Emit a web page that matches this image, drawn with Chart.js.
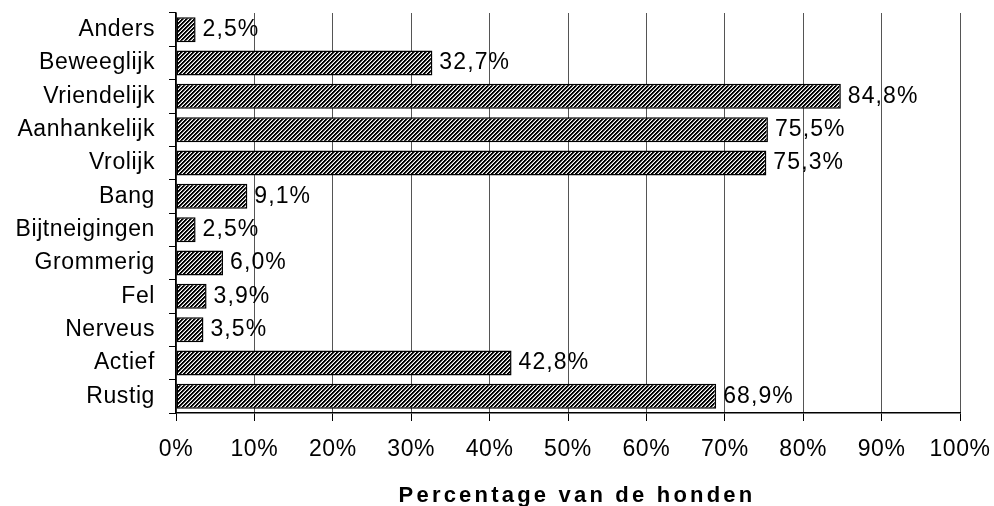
<!DOCTYPE html>
<html>
<head>
<meta charset="utf-8">
<script src="https://cdn.jsdelivr.net/npm/chart.js@4"></script>
<style>
  html, body { margin: 0; padding: 0; background: #fff; }
  #wrap { width: 994px; height: 506px; }
</style>
</head>
<body>
<div id="wrap"><canvas id="chart" width="994" height="506"></canvas></div>
<script>
// Data
const categories = [
  "Anders", "Beweeglijk", "Vriendelijk", "Aanhankelijk", "Vrolijk", "Bang",
  "Bijtneigingen", "Grommerig", "Fel", "Nerveus", "Actief", "Rustig",
];
const percentages = [2.5, 32.7, 84.8, 75.5, 75.3, 9.1, 2.5, 6.0, 3.9, 3.5, 42.8, 68.9];
const xTicks = [0, 10, 20, 30, 40, 50, 60, 70, 80, 90, 100];
const axisTitle = "Percentage van de honden";

const FONT = "'Liberation Sans', Arial, sans-serif";

// Diagonal "/" hatch, 4px period, drawn pixel by pixel
function hatchPattern() {
  const c = document.createElement("canvas");
  c.width = 4;
  c.height = 4;
  const g = c.getContext("2d");
  g.fillStyle = "#fff";
  g.fillRect(0, 0, 4, 4);
  for (let y = 0; y < 4; y++) {
    for (let x = 0; x < 4; x++) {
      const k = (x + y) % 4;
      if (k === 0 || k === 1) {
        g.fillStyle = "#000";
        g.fillRect(x, y, 1, 1);
      } else if (k === 2) {
        g.fillStyle = "#888";
        g.fillRect(x, y, 1, 1);
      }
    }
  }
  return g.createPattern(c, "repeat");
}

const fmt = (v) => v.toFixed(1).replace(".", ",") + "%";

// Slightly wider letter spacing for the axis labels
const spacing = {
  id: "spacing",
  beforeLayout(chart) { chart.ctx.letterSpacing = "0.6px"; },
  beforeDraw(chart) { chart.ctx.letterSpacing = "0.6px"; },
};

// Value labels at the end of each bar
const valueLabels = {
  id: "valueLabels",
  afterDatasetsDraw(chart) {
    const ctx = chart.ctx;
    const meta = chart.getDatasetMeta(0);
    ctx.save();
    ctx.letterSpacing = "1.1px";
    ctx.font = "23px " + FONT;
    ctx.fillStyle = "#000";
    ctx.textAlign = "left";
    ctx.textBaseline = "middle";
    meta.data.forEach((bar, i) => {
      ctx.fillText(fmt(percentages[i]), bar.x + 7, bar.y);
    });
    ctx.restore();
  },
};

// Bold axis title, letter-spaced like the original
const bottomTitle = {
  id: "bottomTitle",
  afterDraw(chart) {
    const ctx = chart.ctx;
    const area = chart.chartArea;
    ctx.save();
    ctx.letterSpacing = "3.2px";
    ctx.font = "bold 22px " + FONT;
    ctx.fillStyle = "#000";
    ctx.textAlign = "center";
    ctx.textBaseline = "alphabetic";
    ctx.fillText(axisTitle, (area.left + area.right) / 2 + 9, 502);
    ctx.restore();
  },
};

const noEdgePadding = (s) => {
  s.paddingLeft = 0;
  s.paddingRight = 0;
  s.paddingTop = 0;
  s.paddingBottom = 0;
};

new Chart(document.getElementById("chart"), {
  type: "bar",
  data: {
    labels: categories,
    datasets: [{
      data: percentages,
      backgroundColor: hatchPattern(),
      borderColor: "#000",
      borderWidth: 1.5,
      borderSkipped: false,
      categoryPercentage: 1,
      barPercentage: 0.75,
    }],
  },
  options: {
    indexAxis: "y",
    responsive: false,
    animation: false,
    layout: { padding: { top: 13, right: 34, left: 0, bottom: 0 } },
    plugins: {
      legend: { display: false },
      tooltip: { enabled: false },
    },
    scales: {
      x: {
        min: 0,
        max: 100,
        afterBuildTicks: (s) => { s.ticks = xTicks.map((v) => ({ value: v })); },
        afterFit: (s) => { s.height = 93; noEdgePadding(s); },
        border: { color: "#000", width: 1.5 },
        grid: { color: "#555", lineWidth: 1, tickLength: 8, tickColor: "#000" },
        ticks: {
          color: "#000",
          padding: 15,
          maxRotation: 0,
          autoSkip: false,
          font: { family: FONT, size: 23 },
          callback: (v) => v + "%",
        },
      },
      y: {
        afterFit: (s) => { s.width = 176; noEdgePadding(s); },
        border: { color: "#000", width: 1.5 },
        grid: {
          offset: true,
          drawOnChartArea: false,
          tickLength: 7,
          color: "#000",
        },
        ticks: {
          color: "#000",
          padding: 14,
          autoSkip: false,
          font: { family: FONT, size: 23 },
        },
      },
    },
  },
  plugins: [spacing, valueLabels, bottomTitle],
});
</script>
</body>
</html>
